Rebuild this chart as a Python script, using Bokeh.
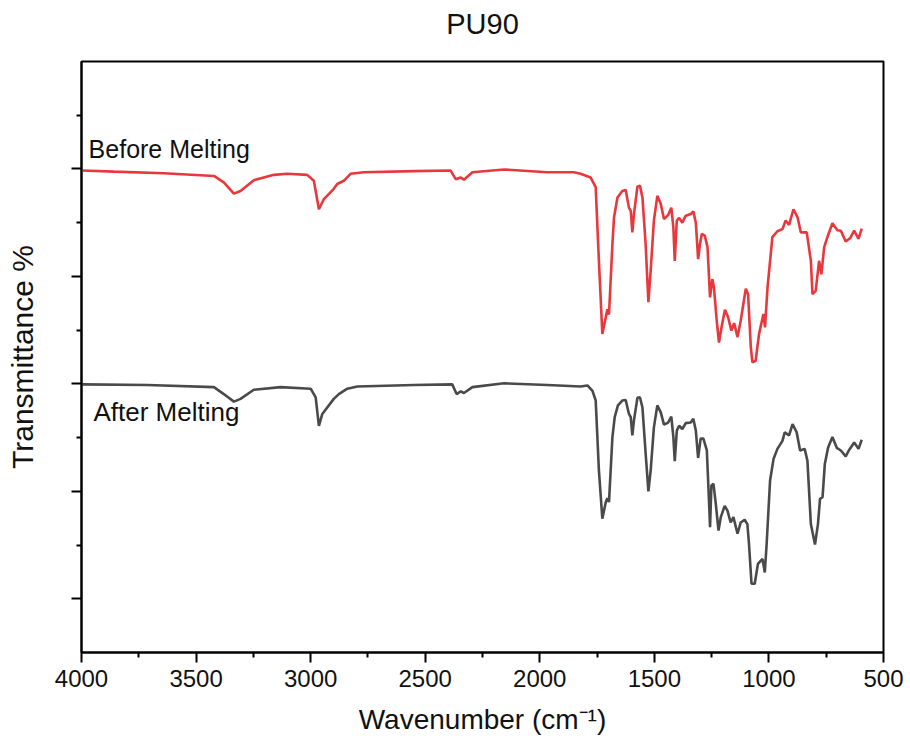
from bokeh.plotting import figure
from bokeh.models import Range1d, FixedTicker, Label, CustomJSTickFormatter, LinearAxis
from bokeh.embed import file_html
from bokeh.resources import INLINE

# ---- data (wavenumber in cm-1, transmittance in arbitrary %) ----
before_wn = [3997, 3859, 3641, 3422, 3379, 3335, 3306, 3248, 3160, 3102, 3015, 2986, 2964, 2942,
             2899, 2884, 2855, 2826, 2768, 2549, 2389, 2367, 2345, 2331, 2294, 2156, 1967, 1851,
             1822, 1778, 1756, 1742, 1727, 1712, 1705, 1698, 1683, 1676, 1661, 1640, 1625, 1611,
             1603, 1596, 1589, 1574, 1563, 1552, 1538, 1526, 1516, 1502, 1487, 1472, 1458, 1440,
             1426, 1417, 1411, 1402, 1392, 1378, 1363, 1341, 1330, 1319, 1309, 1301, 1293, 1280,
             1268, 1257, 1247, 1240, 1228, 1218, 1207, 1192, 1178, 1164, 1152, 1137, 1123, 1101,
             1091, 1079, 1072, 1058, 1043, 1024, 1017, 1006, 985, 963, 941, 927, 912, 893, 875,
             861, 835, 817, 810, 796, 781, 771, 759, 745, 723, 701, 686, 665, 646, 628, 609, 595]
before_t = [89.7, 89.5, 89.2, 88.7, 87.5, 85.4, 85.9, 87.9, 88.9, 89.1, 88.9, 87.8, 82.5, 84.4,
            86.3, 87.2, 87.8, 89.1, 89.4, 89.6, 89.7, 88.1, 88.4, 88.0, 89.4, 89.9, 89.4, 89.4,
            89.1, 88.4, 86.6, 72.9, 59.3, 62.4, 63.9, 62.9, 76.0, 81.0, 84.7, 85.9, 86.1, 82.8,
            82.2, 78.2, 81.6, 86.7, 86.9, 84.7, 76.0, 65.2, 71.1, 80.4, 85.0, 83.5, 80.7, 81.4,
            82.8, 79.1, 72.9, 80.4, 80.9, 80.0, 81.3, 81.6, 82.1, 80.0, 73.2, 76.0, 77.9, 77.6,
            75.4, 66.1, 69.5, 68.0, 61.8, 57.7, 60.5, 63.8, 62.4, 59.9, 61.3, 58.7, 61.8, 67.7,
            66.7, 56.8, 54.0, 54.3, 59.3, 63.0, 60.5, 68.0, 77.3, 78.4, 78.8, 80.4, 79.6, 82.5, 81.0,
            78.2, 78.2, 72.9, 66.7, 67.3, 72.9, 70.4, 75.4, 77.3, 79.9, 78.6, 78.5, 76.5, 77.1, 78.5, 77.0, 78.9]

after_wn = [3997, 3713, 3422, 3379, 3335, 3306, 3248, 3131, 3000, 2978, 2964, 2949, 2899, 2877,
            2840, 2796, 2549, 2382, 2363, 2345, 2331, 2294, 2156, 1967, 1822, 1792, 1770, 1756,
            1742, 1727, 1712, 1705, 1698, 1683, 1673, 1659, 1640, 1625, 1611, 1603, 1596, 1589,
            1574, 1563, 1552, 1538, 1526, 1516, 1502, 1487, 1472, 1458, 1440, 1426, 1417, 1411,
            1402, 1392, 1378, 1363, 1341, 1330, 1319, 1309, 1298, 1286, 1271, 1261, 1257, 1251,
            1242, 1232, 1220, 1210, 1193, 1181, 1167, 1155, 1137, 1123, 1106, 1094, 1087, 1076,
            1062, 1048, 1028, 1018, 1010, 995, 980, 963, 941, 931, 912, 897, 879, 864, 844, 832,
            817, 799, 786, 777, 766, 756, 742, 723, 704, 686, 665, 650, 628, 609, 595]
after_t = [49.9, 49.8, 49.4, 48.1, 46.7, 47.2, 48.9, 49.4, 49.1, 47.5, 42.2, 44.4, 47.2, 48.1,
           49.1, 49.5, 49.8, 49.9, 48.1, 48.6, 48.3, 49.4, 50.1, 49.8, 49.5, 49.7, 48.7, 46.9,
           33.9, 24.9, 28.0, 28.7, 28.0, 40.1, 43.8, 46.0, 46.9, 47.0, 44.4, 43.8, 40.4, 43.2,
           47.4, 47.5, 45.6, 37.0, 30.0, 33.9, 41.9, 46.0, 44.7, 42.4, 42.8, 43.9, 40.1, 35.6,
           41.3, 42.2, 41.6, 42.7, 42.8, 43.5, 41.3, 36.2, 39.8, 39.8, 37.6, 27.7, 23.3, 31.1,
           31.4, 27.7, 22.7, 25.2, 27.3, 26.4, 24.2, 25.2, 22.1, 24.2, 24.7, 23.9, 20.2, 12.8,
           12.8, 16.5, 17.4, 14.9, 20.2, 32.0, 36.0, 37.9, 39.4, 41.0, 40.4, 42.5, 41.0, 37.6, 37.9, 35.7,
           23.9, 20.1, 23.9, 28.6, 28.9, 35.1, 38.1, 40.1, 38.1, 37.6, 36.5, 37.7, 39.1, 37.9, 39.6]

x_ticks = [4000, 3500, 3000, 2500, 2000, 1500, 1000, 500]
x_minor = [3750, 3250, 2750, 2250, 1750, 1250, 750]
y_ticks = [10, 30, 50, 70, 90]
y_minor = [20, 40, 60, 80, 100]

title_text = "PU90"
series_names = ["Before Melting", "After Melting"]
label_pos = [(3969, 96.3), (3948, 47.6)]
label_sizes = ["25px", "26px"]

FONT = "Liberation Sans"
RED = "#e8383d"
GRAY = "#4a4a4a"

p = figure(width=910, height=749, output_backend="svg", toolbar_location=None,
           x_range=Range1d(4000, 500), y_range=Range1d(0, 110),
           min_border_left=81, min_border_right=27, min_border_top=61, min_border_bottom=97,
           background_fill_color="white", border_fill_color="white")

p.line(before_wn, before_t, line_color=RED, line_width=2.6)
p.line(after_wn, after_t, line_color=GRAY, line_width=2.6)

for name, (lx, ly), fs in zip(series_names, label_pos, label_sizes):
    p.add_layout(Label(x=lx, y=ly, text=name, text_font=FONT, text_font_size=fs,
                       text_color="#111111", text_baseline="top", text_align="left"))

p.grid.visible = False
p.outline_line_color = "black"
p.outline_line_width = 2
p.outline_line_alpha = 1

xa = p.below[0]
ya = p.left[0]
xa.ticker = FixedTicker(ticks=x_ticks, minor_ticks=x_minor)
xa.axis_label = "Wavenumber (cm\u207b\u00b9)"
ya.ticker = FixedTicker(ticks=y_ticks, minor_ticks=y_minor)
ya.formatter = CustomJSTickFormatter(code="return ''")
ya.axis_label = "Transmittance %"

for ax in (xa, ya):
    ax.axis_line_width = 2
    ax.axis_line_color = "black"
    ax.major_tick_line_width = 2
    ax.minor_tick_line_width = 2
    ax.major_tick_out = 10
    ax.major_tick_in = 0
    ax.minor_tick_out = 5
    ax.minor_tick_in = 0
    ax.major_label_text_font = FONT
    ax.major_label_text_font_size = "24px"
    ax.major_label_text_color = "#111111"
    ax.axis_label_text_font = FONT
    ax.axis_label_text_font_style = "normal"
    ax.axis_label_text_color = "#111111"

xa.major_label_standoff = 7
xa.axis_label_text_font_size = "28px"
xa.axis_label_standoff = 14
ya.major_label_standoff = 0
ya.axis_label_text_font_size = "30px"
ya.axis_label_standoff = 33

# chart title drawn as the label of a bare axis above the frame
top = LinearAxis(axis_label=title_text, ticker=FixedTicker(ticks=[]),
                 axis_line_color=None, major_tick_line_color=None, minor_tick_line_color=None,
                 major_tick_out=0, major_tick_in=0, minor_tick_out=0, minor_tick_in=0,
                 major_label_text_font_size="0px", major_label_standoff=0,
                 axis_label_standoff=22, axis_label_text_font=FONT,
                 axis_label_text_font_size="29px", axis_label_text_font_style="normal",
                 axis_label_text_color="#111111")
p.add_layout(top, "above")

open("out.html", "w").write(file_html(p, INLINE))
